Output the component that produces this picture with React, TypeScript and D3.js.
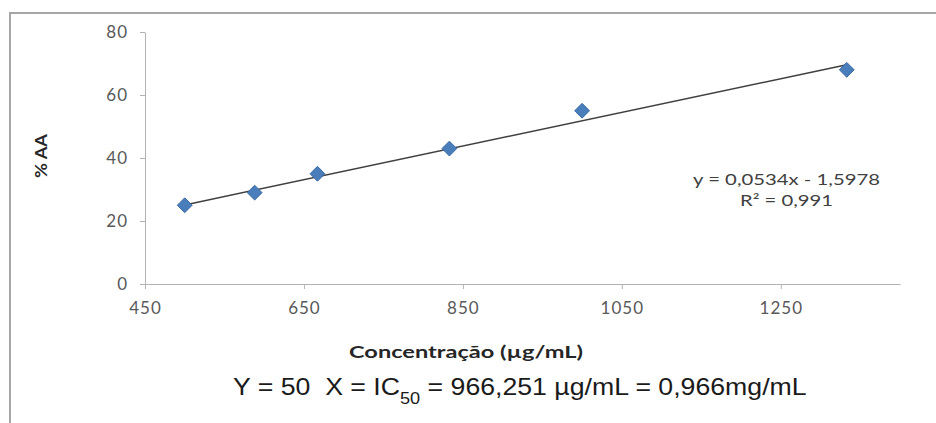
import React, { useEffect, useRef } from "react";
import * as d3 from "d3";

// concentration (µg/mL) and % AA
const concentrations = [500, 588, 667, 833, 1000, 1333];
const activity = [25, 29, 35, 43, 55, 68];
const xTicks = [450, 650, 850, 1050, 1250];
const yTicks = [0, 20, 40, 60, 80];
const slope = 0.0534;
const intercept = -1.5978;

const App = () => {
    const ref = useRef<SVGSVGElement>(null);

    useEffect(() => {
        const svg = d3.select(ref.current);
        svg.selectAll("*").remove();

        const width = 936;
        const height = 423;
        const margin = { top: 32, right: 36, bottom: 139, left: 145 };
        const labelFont = "Lato, 'Open Sans', sans-serif";

        // outer frame (left + top only, rest is cropped)
        svg.append("path")
            .attr("d", `M10,${height} L10,13 L${width},13`)
            .attr("fill", "none")
            .attr("stroke", "#a6a6a6")
            .attr("stroke-width", 2);

        const x = d3.scaleLinear()
            .domain([450, 1400])
            .range([margin.left, width - margin.right]);

        const y = d3.scaleLinear()
            .domain([0, 80])
            .range([height - margin.bottom, margin.top]);

        // y axis
        const yAxis = svg.append("g")
            .attr("transform", `translate(${margin.left},0)`)
            .call(d3.axisLeft(y).tickValues(yTicks).tickSize(5).tickSizeOuter(0));
        yAxis.select(".domain").attr("stroke", "#b3b3b3");
        yAxis.selectAll(".tick line").attr("stroke", "#b3b3b3");
        yAxis.selectAll(".tick text")
            .attr("x", -17)
            .attr("font-family", labelFont)
            .attr("font-size", 17)
            .attr("letter-spacing", 1)
            .attr("fill", "#595959");

        // x axis
        const xAxis = svg.append("g")
            .attr("transform", `translate(0,${y(0)})`)
            .call(d3.axisBottom(x).tickValues(xTicks).tickFormat(d3.format("d")).tickSize(5).tickSizeOuter(0));
        xAxis.select(".domain").attr("stroke", "#b3b3b3");
        xAxis.selectAll(".tick line").attr("stroke", "#b3b3b3");
        xAxis.selectAll(".tick text")
            .attr("y", 18)
            .attr("font-family", labelFont)
            .attr("font-size", 17)
            .attr("letter-spacing", 1)
            .attr("fill", "#595959");

        // trend line
        const x0 = d3.min(concentrations) as number;
        const x1 = d3.max(concentrations) as number;
        svg.append("line")
            .attr("x1", x(x0))
            .attr("y1", y(slope * x0 + intercept))
            .attr("x2", x(x1))
            .attr("y2", y(slope * x1 + intercept))
            .attr("stroke", "#3f3f3f")
            .attr("stroke-width", 1.5);

        // markers
        const diamond = d3.symbol().type(d3.symbolDiamond2).size(140);
        svg.selectAll(".pt")
            .data(concentrations)
            .enter().append("path")
            .attr("class", "pt")
            .attr("d", diamond)
            .attr("transform", (d, i) => `translate(${x(d)},${y(activity[i])})`)
            .attr("fill", "#4a7ebb")
            .attr("stroke", "#3a6aa5")
            .attr("stroke-width", 1);

        // equation
        svg.append("text")
            .attr("x", 693).attr("y", 185)
            .attr("textLength", 187).attr("lengthAdjust", "spacingAndGlyphs")
            .attr("font-family", labelFont)
            .attr("font-size", 15)
            .attr("fill", "#404040")
            .text("y = 0,0534x - 1,5978");
        svg.append("text")
            .attr("x", 740).attr("y", 206)
            .attr("textLength", 93).attr("lengthAdjust", "spacingAndGlyphs")
            .attr("font-family", labelFont)
            .attr("font-size", 15)
            .attr("fill", "#404040")
            .text("R² = 0,991");

        // axis titles
        svg.append("text")
            .attr("transform", `translate(47,178) rotate(-90)`)
            .attr("textLength", 44).attr("lengthAdjust", "spacingAndGlyphs")
            .attr("font-family", labelFont)
            .attr("font-weight", "bold")
            .attr("font-size", 17)
            .attr("fill", "#262626")
            .text("% AA");

        svg.append("text")
            .attr("x", 349)
            .attr("y", 358)
            .attr("textLength", 234).attr("lengthAdjust", "spacingAndGlyphs")
            .attr("font-family", labelFont)
            .attr("font-weight", "bold")
            .attr("font-size", 17)
            .attr("fill", "#262626")
            .text("Concentração (µg/mL)");

        // IC50 note
        const note = svg.append("text")
            .attr("transform", "translate(233,395) scale(1.135,1)")
            .attr("font-family", "'Liberation Sans', Arial, sans-serif")
            .attr("font-size", 23.5)
            .attr("fill", "#1a1a1a")
            .style("white-space", "pre");
        note.append("tspan").text("Y = 50  X = IC");
        note.append("tspan").attr("font-size", 16).attr("dy", 9).text("50");
        note.append("tspan").attr("dy", -9).text(" = 966,251 µg/mL = 0,966mg/mL");
    });

    return (
        <svg ref={ref} width={936} height={423}
            style={{ position: "fixed", left: 0, top: 0, background: "#fff" }} />
    );
};

export default App;
